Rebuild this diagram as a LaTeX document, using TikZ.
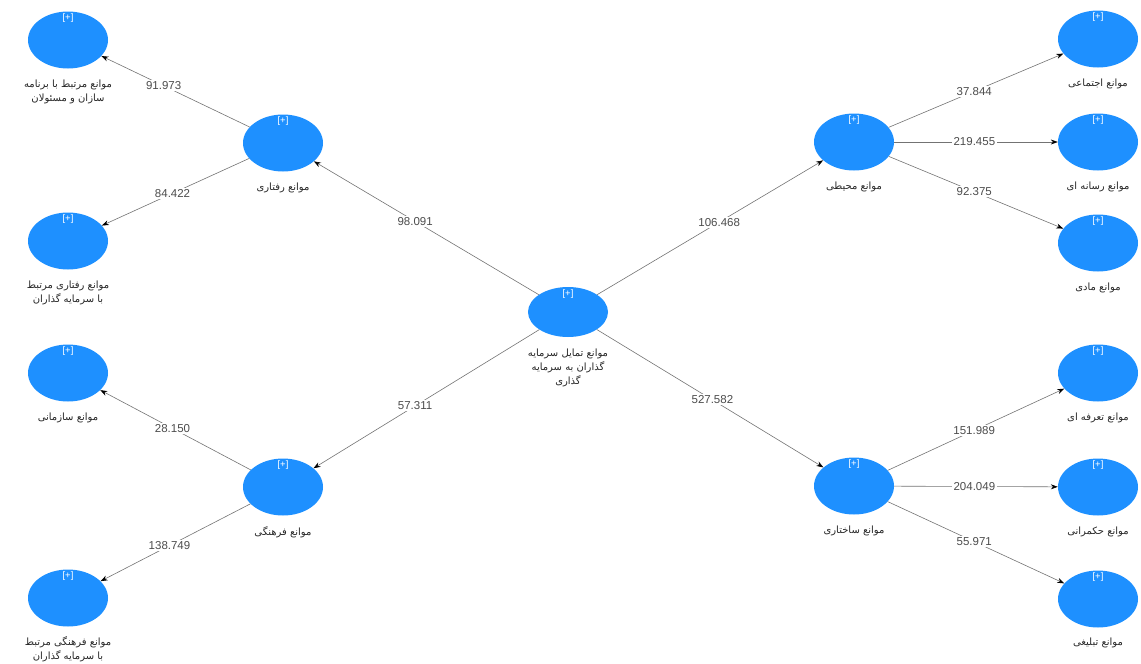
\documentclass[tikz,border=0pt]{standalone}
\usepackage{fontspec}
\setmainfont{Liberation Sans}
\newfontfamily\farsi[Script=Arabic]{DejaVu Sans}
\TeXXeTstate=1
\newcommand{\fa}[1]{{\farsi\beginR #1\endR}}
\usetikzlibrary{positioning,arrows.meta,shapes.geometric}
\definecolor{lvblue}{RGB}{30,144,255}
\begin{document}
\begin{tikzpicture}[x=1pt, y=-1pt,
	lv/.style={ellipse, fill=lvblue, minimum width=80pt, minimum height=57pt, inner sep=0pt,
		label={[text=white, font=\fontsize{9.5}{9.5}\selectfont, yshift=-15pt]north:{[+]}}},
	lvname/.style={font=\fontsize{10}{14}\selectfont, align=center, inner sep=1pt, text=black!85},
	rel/.style={draw=black!55, line width=0.6pt, -{Stealth[length=7pt, width=5pt, color=black]}},
	coef/.style={fill=white, font=\fontsize{11.5}{11.5}\selectfont, text=black!70, inner sep=1.5pt}]
		\useasboundingbox (0,0) rectangle (1141,664);
		\node[lv, minimum height=50pt] (C) at (568,312) {};
		\node[lv] (Rf) at (283,143) {};
		\node[lv] (Fr) at (283,487) {};
		\node[lv] (Mh) at (854,142) {};
		\node[lv] (Sk) at (854,486) {};
		\node[lv] (Rf1) at (68,40) {};
		\node[lv] (Rf2) at (68,241) {};
		\node[lv] (Fr1) at (68,373) {};
		\node[lv] (Fr2) at (68,598) {};
		\node[lv] (Mh1) at (1098,39) {};
		\node[lv] (Mh2) at (1098,142) {};
		\node[lv] (Mh3) at (1098,243) {};
		\node[lv] (Sk1) at (1098,373) {};
		\node[lv] (Sk2) at (1098,487) {};
		\node[lv] (Sk3) at (1098,599) {};
		\node[lvname] (Ct) [below=10pt of C] {\fa{موانع تمایل سرمایه}\\ \fa{گذاران به سرمایه}\\ \fa{گذاری}};
		\node[lvname] (Rft) [below=10pt of Rf] {\fa{موانع رفتاری}};
		\node[lvname] (Frt) [below=10pt of Fr] {\fa{موانع فرهنگی}};
		\node[lvname] (Mht) [below=10pt of Mh] {\fa{موانع محیطی}};
		\node[lvname] (Skt) [below=10pt of Sk] {\fa{موانع ساختاری}};
		\node[lvname] (Rf1t) [below=10pt of Rf1] {\fa{موانع مرتبط با برنامه}\\ \fa{سازان و مسئولان}};
		\node[lvname] (Rf2t) [below=10pt of Rf2] {\fa{موانع رفتاری مرتبط}\\ \fa{با سرمایه گذاران}};
		\node[lvname] (Fr1t) [below=10pt of Fr1] {\fa{موانع سازمانی}};
		\node[lvname] (Fr2t) [below=9pt of Fr2] {\fa{موانع فرهنگی مرتبط}\\ \fa{با سرمایه گذاران}};
		\node[lvname] (Mh1t) [below=10pt of Mh1] {\fa{موانع اجتماعی}};
		\node[lvname] (Mh2t) [below=10pt of Mh2] {\fa{موانع رسانه ای}};
		\node[lvname] (Mh3t) [below=10pt of Mh3] {\fa{موانع مادی}};
		\node[lvname] (Sk1t) [below=10pt of Sk1] {\fa{موانع تعرفه ای}};
		\node[lvname] (Sk2t) [below=10pt of Sk2] {\fa{موانع حکمرانی}};
		\node[lvname] (Sk3t) [below=9pt of Sk3] {\fa{موانع تبلیغی}};
		\draw[rel] (C) -- node[coef, pos=0.55] (cRf) {98.091} (Rf);
		\draw[rel] (C) -- node[coef, pos=0.55] (cFr) {57.311} (Fr);
		\draw[rel] (C) -- node[coef, pos=0.54] (cMh) {106.468} (Mh);
		\draw[rel] (C) -- node[coef, pos=0.51] (cSk) {527.582} (Sk);
		\draw[rel] (Rf) -- node[coef, pos=0.58] (cRf1) {91.973} (Rf1);
		\draw[rel] (Rf) -- node[coef, pos=0.52] (cRf2) {84.422} (Rf2);
		\draw[rel] (Fr) -- node[coef, pos=0.52] (cFr1) {28.150} (Fr1);
		\draw[rel] (Fr) -- node[coef, pos=0.54] (cFr2) {138.749} (Fr2);
		\draw[rel] (Mh) -- node[coef, pos=0.49] (cMh1) {37.844} (Mh1);
		\draw[rel] (Mh) -- node[coef, pos=0.49] (cMh2) {219.455} (Mh2);
		\draw[rel] (Mh) -- node[coef, pos=0.49] (cMh3) {92.375} (Mh3);
		\draw[rel] (Sk) -- node[coef, pos=0.49] (cSk1) {151.989} (Sk1);
		\draw[rel] (Sk) -- node[coef, pos=0.49] (cSk2) {204.049} (Sk2);
		\draw[rel] (Sk) -- node[coef, pos=0.49] (cSk3) {55.971} (Sk3);
		\end{tikzpicture}
\end{document}
